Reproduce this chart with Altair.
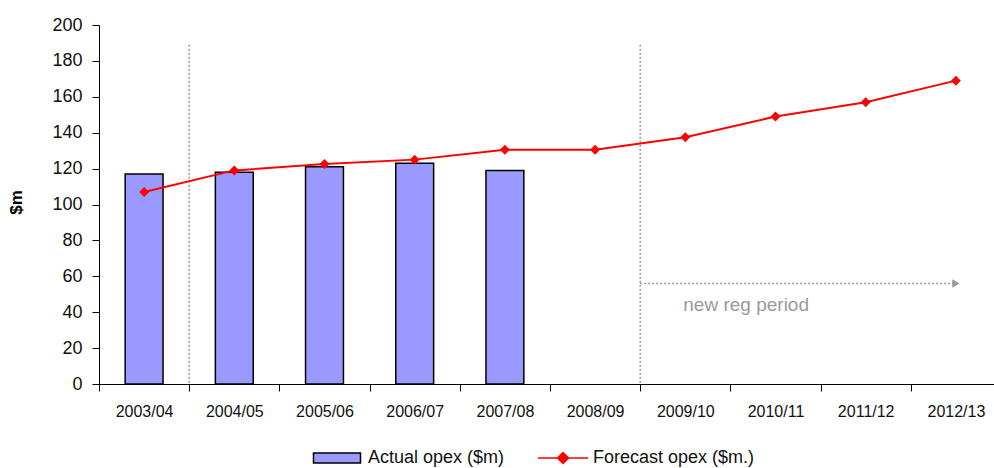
import altair as alt
import pandas as pd

# Financial years on the category axis
years = ["2003/04", "2004/05", "2005/06", "2006/07", "2007/08",
         "2008/09", "2009/10", "2010/11", "2011/12", "2012/13"]
# Actual operating expenditure ($m), reported years only
actual_years = ["2003/04", "2004/05", "2005/06", "2006/07", "2007/08"]
actual_opex = [117, 118, 121, 123, 119]
# Forecast operating expenditure ($m)
forecast_opex = [107, 119, 122.5, 125, 130.5, 130.5, 137.5, 149, 157, 169]
# y-axis tick values
y_ticks = [0, 20, 40, 60, 80, 100, 120, 140, 160, 180, 200]

# Period boundaries and the regulatory-period annotation
boundary_years = ["2004/05", "2009/10"]
boundary_top = 189
period_start = "2009/10"
period_end = "2012/13"
period_level = 56
period_label = "new reg period"
period_label_level = 44

actual_df = pd.DataFrame({"year": actual_years, "value": actual_opex,
                          "series": "Actual opex ($m)"})
forecast_df = pd.DataFrame({"year": years, "value": forecast_opex,
                            "series": "Forecast opex ($m.)"})
bound_df = pd.DataFrame({"year": boundary_years, "top": boundary_top})
period_df = pd.DataFrame({"start": [period_start], "end": [period_end],
                          "level": [period_level], "label": [period_label],
                          "label_level": [period_label_level]})

FONT = "Liberation Sans"
GREY = "#9a9a9a"

# one full slot per year (the last slot runs slightly past the right edge);
# bars are narrowed with a relative band width
x_scale = alt.Scale(domain=years, paddingInner=0, paddingOuter=0,
                    range=[0, 902])
y_scale = alt.Scale(domain=[0, 200], nice=False)

x_axis = alt.Axis(title=None, labelAngle=0, tickBand="extent",
                  bandPosition=0.5, tickSize=7,
                  labelPadding=12, labelFontSize=16, labelFont=FONT,
                  labelColor="#111", domainColor="#000", tickColor="#000",
                  grid=False)
y_axis = alt.Axis(title="$m", values=y_ticks, tickSize=7,
                  labelOverlap=False,
                  labelPadding=10, labelFontSize=18, labelFont=FONT,
                  labelColor="#111", domainColor="#000", tickColor="#000",
                  titleFont=FONT, titleFontSize=17, titleFontWeight="bold",
                  titleColor="#000", titleAngle=270, titleX=-83, titleY=177,
                  titleBaseline="middle", grid=False)


def xe(field, **kw):
    return alt.X(field, scale=x_scale, axis=x_axis, sort=years, **kw)


def ye(field):
    return alt.Y(field, scale=y_scale, axis=y_axis)


bars = alt.Chart(actual_df).mark_bar(
    stroke="#000", strokeWidth=1.5, color="#9999FF",
    width=alt.RelativeBandSize(0.42)
).encode(
    x=xe("year:N"),
    y=ye("value:Q"),
    fill=alt.Fill("series:N",
                  scale=alt.Scale(range=["#9999FF"]),
                  legend=alt.Legend(
                      title=None, orient="none", legendX=229, legendY=424,
                      symbolType="M-4.7,-1H4.7V1H-4.7Z", symbolSize=100,
                      symbolStrokeColor="#000", symbolStrokeWidth=1.5,
                      symbolOpacity=1, labelOffset=22, labelFontSize=18,
                      labelLimit=300, labelFont=FONT, labelColor="#111")),
)

bound_rules = alt.Chart(bound_df).mark_rule(
    color=GREY, strokeDash=[2, 2], strokeWidth=1.5
).encode(
    x=xe("year:N", bandPosition=0),
    y=ye("top:Q"),
    y2=alt.datum(0),
)

period_arrow = alt.Chart(period_df).mark_rule(
    color=GREY, strokeDash=[2, 2], strokeWidth=1.5
).encode(
    x=xe("start:N", bandPosition=0),
    x2=alt.X2("end:N", bandPosition=0.5),
    y=ye("level:Q"),
)

period_head = alt.Chart(period_df).mark_point(
    shape="triangle-right", filled=True, color=GREY, size=70, opacity=1
).encode(
    x=xe("end:N"),
    y=ye("level:Q"),
)

period_text = alt.Chart(period_df).mark_text(
    align="left", baseline="middle", font=FONT, fontSize=19, color=GREY, dx=-2
).encode(
    x=xe("start:N"),
    y=ye("label_level:Q"),
    text="label:N",
)

line = alt.Chart(forecast_df).mark_line(
    strokeWidth=2,
    point=alt.OverlayMarkDef(shape="diamond", filled=True, size=100,
                             color="#FF0000", opacity=1),
).encode(
    x=xe("year:N"),
    y=ye("value:Q"),
    color=alt.Color("series:N",
                    scale=alt.Scale(range=["#FF0000"]),
                    legend=alt.Legend(
                        title=None, orient="none", legendX=455, legendY=424,
                        symbolType="M-5,0H5M0,-1.1L1.1,0L0,1.1L-1.1,0Z",
                        symbolSize=100, symbolStrokeColor="#FF0000",
                        symbolFillColor="#FF0000", symbolStrokeWidth=1.5,
                        symbolOpacity=1, labelOffset=21, labelFontSize=18,
                        labelLimit=300, labelFont=FONT, labelColor="#111")),
)

chart = alt.layer(
    bound_rules, bars, period_arrow, period_head, period_text, line
).resolve_scale(
    fill="independent", color="independent"
).properties(
    width=895, height=359,
    autosize=alt.AutoSizeParams(type="none"),
    padding={"left": 99, "top": 25, "right": 0, "bottom": 84},
).configure_view(
    stroke=None
).configure_axis(
    domainWidth=1, tickWidth=1
)

chart.save("out.html", embed_options={"renderer": "svg", "actions": False})
